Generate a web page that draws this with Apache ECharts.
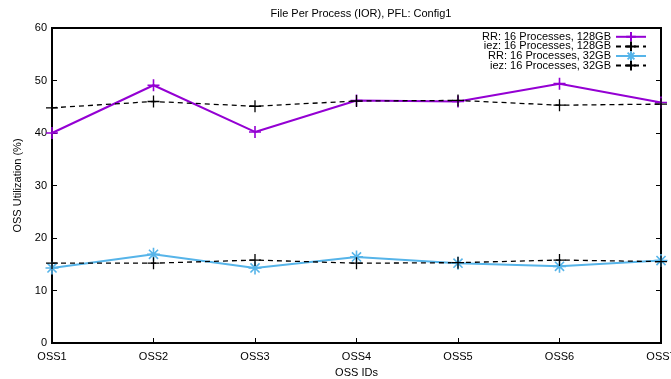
<!DOCTYPE html>
<html>
<head>
<meta charset="utf-8">
<script src="https://cdn.jsdelivr.net/npm/echarts@6/dist/echarts.min.js"></script>
<style>
  html, body { margin: 0; padding: 0; background: #fff; }
  #chart { width: 671px; height: 379px; }
</style>
</head>
<body>
<div id="chart"></div>
<script>
// OSS targets along the x axis
const categories = ['OSS1', 'OSS2', 'OSS3', 'OSS4', 'OSS5', 'OSS6', 'OSS7'];

// Utilization (%) per OSS
const rr128 = [40.0, 49.1, 40.2, 46.2, 46.0, 49.4, 45.8];
const iez128 = [44.8, 46.0, 45.1, 46.1, 46.2, 45.3, 45.5];
const rr32 = [14.3, 16.9, 14.3, 16.4, 15.2, 14.6, 15.7];
const iez32 = [15.2, 15.2, 15.8, 15.2, 15.3, 15.8, 15.5];

const seriesNames = [
  'RR: 16 Processes, 128GB',
  'iez: 16 Processes, 128GB',
  'RR: 16 Processes, 32GB',
  'iez: 16 Processes, 32GB'
];

const yTicks = { min: 0, max: 60, interval: 10 };

const PLUS = 'path://M0,5 L10,5 M5,0 L5,10';
const STAR = 'path://M0,5 L10,5 M5,0 L5,10 M1.5,1.5 L8.5,8.5 M8.5,1.5 L1.5,8.5';
const FONT = '"Liberation Sans", Arial, sans-serif';

function lineSeries(name, data, color, dashed, symbol, size) {
  return {
    name: name,
    type: 'line',
    data: data,
    clip: false,
    symbol: symbol,
    symbolSize: size,
    showAllSymbol: true,
    lineStyle: { color: color, width: dashed ? 1.3 : 2, type: dashed ? [5, 4] : 'solid' },
    itemStyle: { color: color, borderColor: color, borderWidth: dashed ? 1.3 : 1.6 },
    emphasis: { disabled: true }
  };
}

const chart = echarts.init(document.getElementById('chart'), null, { renderer: 'canvas' });

const axisLineStyle = { show: true, lineStyle: { color: '#000', width: 2 } };

chart.setOption({
  animation: false,
  backgroundColor: '#fff',
  textStyle: { fontFamily: FONT },
  title: {
    text: 'File Per Process (IOR), PFL: Config1',
    left: 356,
    textAlign: 'center',
    top: 3,
    textStyle: { fontFamily: FONT, fontSize: 11, fontWeight: 'normal', color: '#000' }
  },
  legend: {
    orient: 'vertical',
    right: 19,
    top: 26,
    align: 'right',
    itemWidth: 30,
    itemHeight: 12,
    itemGap: -2,
    data: seriesNames,
    textStyle: { fontFamily: FONT, fontSize: 11, color: '#000' }
  },
  grid: {
    left: 52,
    right: 10,
    top: 28,
    bottom: 36,
    outerBoundsMode: 'none',
    show: true,
    borderColor: '#000',
    borderWidth: 2
  },
  xAxis: {
    type: 'category',
    data: categories,
    boundaryGap: false,
    name: 'OSS IDs',
    nameLocation: 'middle',
    nameGap: 24,
    nameTextStyle: { fontFamily: FONT, fontSize: 11, color: '#000' },
    axisLine: axisLineStyle,
    axisTick: { show: true, inside: true, length: 5, lineStyle: { color: '#000', width: 1 } },
    axisLabel: { fontFamily: FONT, fontSize: 11, color: '#000', margin: 8 },
    splitLine: { show: false }
  },
  yAxis: [
    {
      type: 'value',
      min: yTicks.min,
      max: yTicks.max,
      interval: yTicks.interval,
      name: 'OSS Utilization (%)',
      nameLocation: 'middle',
      nameGap: 28,
      nameTextStyle: { fontFamily: FONT, fontSize: 11, color: '#000' },
      axisLine: axisLineStyle,
      axisTick: { show: true, inside: true, length: 5, lineStyle: { color: '#000', width: 1 } },
      axisLabel: { fontFamily: FONT, fontSize: 11, color: '#000', margin: 5 },
      splitLine: { show: false }
    },
    {
      type: 'value',
      position: 'right',
      min: yTicks.min,
      max: yTicks.max,
      interval: yTicks.interval,
      axisLine: axisLineStyle,
      axisTick: { show: true, inside: true, length: 5, lineStyle: { color: '#000', width: 1 } },
      axisLabel: { show: false },
      splitLine: { show: false }
    }
  ],
  series: [
    lineSeries(seriesNames[0], rr128, '#9400d3', false, PLUS, 12),
    lineSeries(seriesNames[1], iez128, '#000000', true, PLUS, 12),
    lineSeries(seriesNames[2], rr32, '#56b4e9', false, STAR, 13),
    lineSeries(seriesNames[3], iez32, '#000000', true, PLUS, 12)
  ]
});
</script>
</body>
</html>
